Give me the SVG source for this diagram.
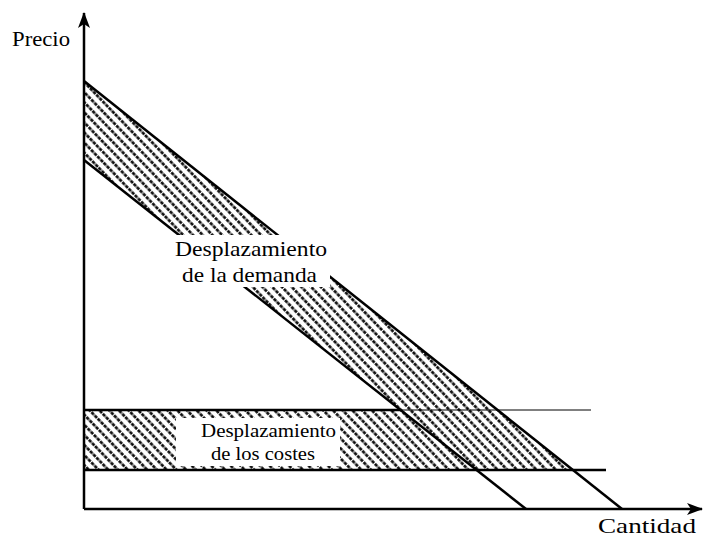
<svg xmlns="http://www.w3.org/2000/svg" width="703" height="538" viewBox="0 0 703 538">
<style>
.ln{stroke:#000;stroke-width:2.5;fill:none}
.thin{stroke:#000;stroke-width:1;fill:none}
.lbl{font-family:"Liberation Serif","Times New Roman","DejaVu Serif",serif;fill:#000}
</style>
<defs>
<pattern id="hatch" width="9" height="7" patternUnits="userSpaceOnUse" patternTransform="rotate(46)">
<line x1="0" y1="3.5" x2="9" y2="3.5" stroke="#000" stroke-width="2.6" stroke-dasharray="3.5 1"/>
</pattern>
<marker id="arr" viewBox="0 0 16 12" refX="15" refY="6" markerWidth="16" markerHeight="12" markerUnits="userSpaceOnUse" orient="auto">
<path d="M0,0 L16,6 L0,12 L4,6 Z" fill="#000"/>
</marker>
</defs>
<g id="hatched-area">
<path d="M84,81 L574,470 L84,470 L84,410 L400.6,410 L84,160 Z" fill="url(#hatch)"/>
</g>
<g id="connectors">
<line class="ln" x1="84" y1="509" x2="84" y2="13" marker-end="url(#arr)"/>
<line class="ln" x1="84" y1="509" x2="702" y2="509" marker-end="url(#arr)"/>
<line id="demand-upper" class="ln" x1="84" y1="81" x2="622" y2="509"/>
<line id="demand-lower" class="ln" x1="84" y1="160" x2="526" y2="509"/>
<line id="cost-upper-thick" class="ln" x1="84" y1="410" x2="400" y2="410"/>
<line id="cost-upper-thin" class="thin" x1="400" y1="410" x2="591" y2="410"/>
<line id="cost-lower" class="ln" x1="84" y1="470" x2="606" y2="470"/>
</g>
<g id="label-precio">
<text class="lbl" x="12" y="46" font-size="22" textLength="58" lengthAdjust="spacingAndGlyphs">Precio</text>
</g>
<g id="label-cantidad">
<text class="lbl" x="598" y="533" font-size="21" textLength="98" lengthAdjust="spacingAndGlyphs">Cantidad</text>
</g>
<g id="label-demanda">
<rect x="172" y="235" width="158" height="52" fill="#fff"/>
<text class="lbl" x="175" y="256" font-size="21" textLength="152" lengthAdjust="spacingAndGlyphs">Desplazamiento</text>
<text class="lbl" x="182" y="282" font-size="21" textLength="135" lengthAdjust="spacingAndGlyphs">de la demanda</text>
</g>
<g id="label-costes">
<rect x="176" y="418" width="164" height="48" fill="#fff"/>
<text class="lbl" x="201" y="437" font-size="19" textLength="135" lengthAdjust="spacingAndGlyphs">Desplazamiento</text>
<text class="lbl" x="211" y="460" font-size="19" textLength="104" lengthAdjust="spacingAndGlyphs">de los costes</text>
</g>
</svg>
